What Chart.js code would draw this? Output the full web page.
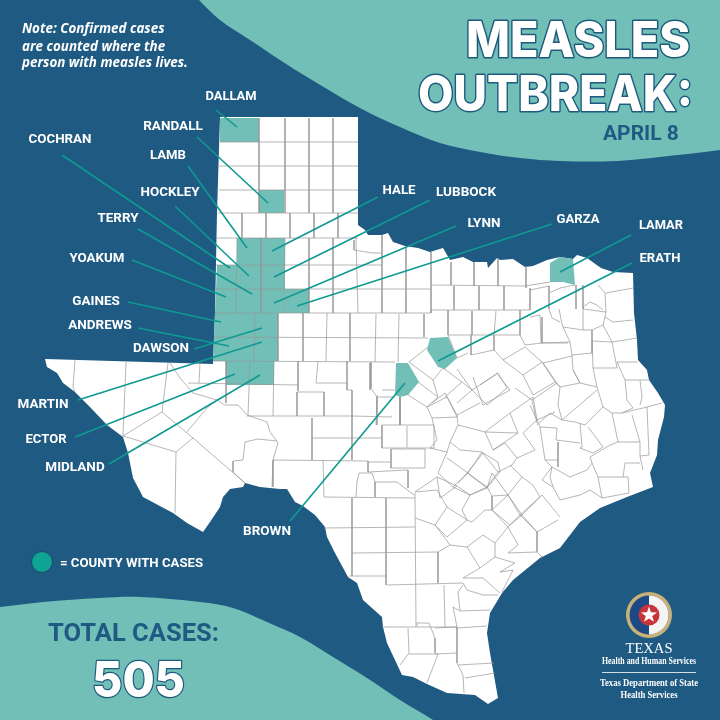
<!DOCTYPE html>
<html><head><meta charset="utf-8">
<script src="https://cdn.jsdelivr.net/npm/chart.js@4"></script>
<style>html,body{margin:0;padding:0;background:#1f5a82}canvas{display:block}</style>
</head><body><canvas id="c" width="720" height="720"></canvas>
<script>
const topWave=[[193,-6],[220,20],[250,40],[280,60],[312,80],[360,108],[400,127],[440,143],[480,152],[520,158],[560,161],[617,161],[660,157],[720,150],[780,142],[800,-60],[150,-60]];
const bottomWave=[[-60,612],[0,607],[43,602],[100,598],[140,597],[200,602],[233,608],[267,622],[300,637],[333,657],[367,678],[400,700],[433,720],[470,746],[460,800],[-80,800]];
const texasOutline=[[220,117],[358,117],[358,225],[365,230],[368,235],[382,235],[388,233],[393,242],[405,246],[418,248],[430,252],[443,248],[450,260],[463,257],[473,262],[487,262],[488,268],[497,258],[500,260],[513,259],[525,267],[533,266],[547,260],[560,257],[573,259],[577,255],[587,258],[601,268],[613,272],[633,273],[634,313],[637,340],[638,360],[647,370],[649,380],[658,393],[665,405],[664,417],[658,440],[657,455],[650,473],[653,487],[627,497],[600,508],[580,522],[560,548],[540,558],[513,580],[502,593],[490,613],[487,633],[490,653],[498,698],[488,704],[475,695],[447,693],[427,684],[413,677],[402,675],[387,643],[383,627],[382,617],[363,600],[357,583],[348,577],[335,553],[327,537],[325,527],[315,515],[303,506],[295,502],[287,489],[280,489],[260,487],[245,483],[243,487],[230,489],[223,497],[220,507],[210,522],[203,532],[187,523],[173,513],[143,497],[133,478],[128,453],[123,437],[107,425],[90,407],[75,392],[63,383],[57,373],[47,367],[45,359],[213,364],[215,313],[217,213]];
const casesDallam=[[220,118],[259,118],[259,142],[220,142]];
const casesRandall=[[259,190],[284,190],[284,213],[259,213]];
const casesLamb=[[237,238],[261,238],[261,265],[237,265]];
const casesHale=[[261,238],[285,238],[285,265],[261,265]];
const casesCochran=[[217,265],[237,265],[237,289],[216,289]];
const casesHockley=[[237,265],[261,265],[261,289],[236,289]];
const casesLubbock=[[261,265],[285,265],[285,289],[261,289]];
const casesYoakum=[[216,289],[236,289],[236,313],[215,313]];
const casesTerry=[[236,289],[261,289],[261,313],[236,313]];
const casesLynn=[[261,289],[285,289],[284,313],[261,313]];
const casesGarza=[[285,289],[309,289],[309,313],[284,313]];
const casesGaines=[[215,313],[255,313],[255,337],[214,337]];
const casesDawson=[[255,313],[278,313],[278,337],[254,337]];
const casesAndrews=[[214,337],[254,337],[254,361],[213,361]];
const casesMartin=[[254,337],[278,337],[278,361],[254,361]];
const casesEctor=[[226,361],[250,361],[250,385],[226,385]];
const casesMidland=[[250,361],[274,361],[274,385],[250,385]];
const casesBrown=[[396,363],[408,363],[419,382],[408,395],[400,397],[395,395]];
const casesErath=[[430,338],[448,337],[457,358],[445,369],[438,367],[427,350]];
const casesLamar=[[550,263],[560,257],[573,259],[575,285],[563,282],[550,282]];
const caseCounties=[casesDallam,casesRandall,casesLamb,casesHale,casesCochran,casesHockley,casesLubbock,casesYoakum,casesTerry,casesLynn,casesGarza,casesGaines,casesDawson,casesAndrews,casesMartin,casesEctor,casesMidland,casesBrown,casesErath,casesLamar];
const panhandleLines=[
[[259,118],[259,213]],[[285,118],[285,213]],[[309,118],[309,213]],[[333,118],[333,213]],
[[220,142],[358,142]],[[219,166],[358,166]],[[219,190],[358,190]],[[218,213],[358,213]],
[[242,213],[242,238]],[[266,213],[266,238]],[[290,213],[290,238]],[[314,213],[314,238]],[[338,213],[338,238]],
[[217,238],[358,238]],[[237,238],[236,313]],[[261,238],[261,313]],[[285,238],[284,313]],[[309,238],[309,313]],[[333,238],[333,313]],[[356,238],[358,313]],
[[216,265],[382,265]],[[216,289],[431,289]],[[215,313],[431,313]],
[[354,240],[354,250],[372,253],[382,253]],[[382,235],[382,313]],[[406,247],[406,313]],[[431,252],[431,313]]];
const rollingPlainsLines=[
[[255,313],[254,361]],[[278,313],[278,361]],[[303,313],[303,361]],[[327,313],[326,361]],[[350,313],[350,361]],[[376,314],[375,362]],[[399,314],[398,362]],[[424,314],[424,337]],
[[214,337],[428,338]],[[213,361],[395,362]],
[[226,361],[226,403]],[[250,361],[248,415]],[[274,361],[273,416]],[[298,361],[298,391]],[[318,361],[316,383],[347,383]],[[347,361],[347,390],[352,390],[352,460]],[[371,362],[371,388],[377,397],[395,397]],
[[188,383],[298,385]],[[297,392],[324,392],[324,416]],[[297,392],[297,416]],[[247,416],[352,416],[392,417]],[[377,397],[377,425]],[[400,397],[400,425]],
[[382,425],[434,425]],[[382,425],[382,448],[407,448],[407,426]],[[408,448],[434,448],[434,425]],
[[312,418],[312,460]],[[312,438],[382,438]],[[273,460],[368,461]],[[323,460],[324,497]],[[273,461],[272,487]],
[[391,449],[391,468],[425,468],[425,449],[391,449]],[[368,462],[390,462]],[[368,461],[368,472],[408,470],[408,488]],
[[359,473],[372,473],[375,482],[397,482],[414,495]],[[359,473],[357,482],[356,497]],[[375,482],[375,497]]];
const westLines=[
[[75,360],[73,387],[75,392]],[[126,362],[123,436]],[[168,363],[162,412],[123,436],[176,452],[175,513]],[[162,412],[193,438],[245,483]],[[176,452],[193,438]],[[187,432],[207,408],[217,400]],
[[170,363],[180,378],[193,393],[217,400],[225,405],[238,405],[247,415],[267,422],[270,432],[278,443],[273,460]],
[[200,363],[199,383]],[[233,461],[243,460],[245,442],[258,439],[277,441]],[[233,461],[233,472],[245,483]],[[273,460],[273,487]]];
const southLines=[
[[324,497],[415,498]],[[352,498],[352,576]],[[386,498],[386,585]],[[415,493],[416,627]],[[324,528],[415,527]],[[352,553],[438,552]],[[349,576],[386,576]],[[387,585],[463,583]],[[438,552],[438,583]],[[444,585],[445,627]],[[382,627],[457,627]],
[[408,628],[409,653],[400,665]],[[409,654],[438,654],[427,683]],[[417,626],[417,623],[429,623],[435,638],[435,653]],[[435,628],[457,627]],[[457,627],[457,663],[463,675],[464,693]],[[435,654],[457,653]],[[458,665],[494,663]],[[465,678],[495,673]],[[457,628],[487,626]],[[453,607],[457,627]],[[453,607],[460,611],[490,610]],[[460,611],[458,592],[463,585]],[[463,578],[483,578],[500,593]],[[463,583],[467,590],[483,595],[498,595]],[[463,578],[480,568],[467,547],[450,545],[438,552]],
[[415,492],[437,490],[447,507],[435,525],[415,518]],[[435,525],[450,545]],[[435,525],[447,537],[467,520],[447,507]],[[467,520],[472,522],[485,510],[492,510],[508,495],[520,515],[542,495],[560,517]],[[480,568],[495,557],[515,563],[500,572],[513,570],[502,592]],[[495,557],[495,543],[483,535],[467,547]],[[495,543],[508,527],[492,510]],[[508,527],[520,515],[537,532],[537,552],[508,553],[518,545],[508,527]],[[537,532],[558,520]],[[537,552],[542,557]],
[[415,492],[437,477],[440,498],[457,486],[470,495],[462,510],[467,520]],[[457,486],[437,477]],[[458,483],[467,473],[487,488],[470,495]],[[467,473],[483,453],[498,462],[500,472],[487,488],[492,473]],[[492,473],[508,495]]];
const centralLines=[
[[382,390],[395,390]],[[409,362],[428,347]],[[370,363],[370,390]],[[400,397],[400,425]],[[377,395],[376,425]],
[[408,395],[427,407],[432,418],[457,417],[447,397],[427,407]],[[418,382],[438,397],[427,407]],[[409,362],[433,380],[438,397]],[[433,380],[443,368]],[[443,368],[462,382],[445,397]],[[462,382],[472,390],[457,403]],[[472,390],[498,373],[507,388],[487,405],[472,390]],[[457,369],[472,390]],[[457,358],[468,353]],[[448,335],[457,358]],[[471,335],[471,355]],[[494,335],[494,350],[503,360],[525,347],[542,362],[555,382],[533,395],[523,375],[542,362]],[[503,360],[523,375]],[[480,385],[498,373]],[[471,355],[494,350]],
[[432,403],[445,393],[457,415],[480,403]],[[432,418],[437,440],[430,448]],[[473,377],[483,405],[510,390],[498,375]],[[457,415],[458,425],[485,432],[510,413],[518,433],[485,432]],[[485,432],[493,450],[518,433]],[[510,413],[533,397],[537,420],[555,412]],[[537,420],[523,433],[535,450],[517,458],[505,443],[493,450]],[[458,425],[450,442],[447,452],[430,448]],[[450,442],[460,450],[482,452],[498,472],[512,465],[517,458]],[[482,452],[468,473],[447,458]],[[447,452],[438,473],[453,487],[468,473],[487,487],[498,472]],[[453,487],[470,495],[487,487],[492,496],[508,495],[522,477],[510,465]],[[492,496],[492,510],[510,525],[522,515],[508,495]],[[522,515],[540,497],[533,485],[522,477]],[[522,515],[537,532]]];
const eastLines=[
[[451,262],[451,285]],[[474,262],[474,286]],[[498,258],[498,286]],[[526,266],[526,288]],[[431,285],[525,286],[550,282]],[[454,286],[454,310]],[[479,286],[479,310]],[[504,286],[504,310]],[[530,288],[530,310]],[[431,313],[432,310],[530,310]],[[448,310],[448,335]],[[472,311],[472,335]],[[496,311],[494,335]],[[520,310],[520,335],[525,345],[542,343],[568,343]],[[448,335],[520,335]],[[542,317],[542,343]],
[[530,290],[549,286]],[[549,286],[549,309],[552,318],[560,322]],[[549,293],[560,288],[575,285]],[[530,317],[540,315],[541,343]],[[576,285],[576,309]],[[583,285],[583,309]],[[598,285],[605,293],[606,312]],[[606,293],[633,288]],[[559,309],[562,324],[563,327],[583,330],[583,309]],[[583,309],[606,312]],[[583,307],[590,302],[597,305],[603,310]],[[605,317],[613,322],[633,320]],[[583,330],[592,330],[603,325],[606,312]],[[592,330],[592,353]],[[592,341],[612,342],[625,340],[637,338]],[[603,325],[612,342]],[[563,327],[570,342],[572,355]],[[541,343],[570,342]],[[592,353],[572,355],[573,370],[580,383],[560,387],[557,383],[543,363],[572,356]],[[592,341],[593,368],[617,368],[612,342]],[[573,370],[580,383],[597,387],[593,368]],[[617,362],[638,362]],[[617,362],[625,380],[627,400],[633,408]],[[625,380],[640,380],[642,397],[640,405]],[[640,380],[650,380]],[[622,413],[647,407],[662,403]],[[597,387],[603,407],[612,413],[622,413],[633,408]],[[597,390],[562,420],[558,405],[560,387]],[[603,407],[585,425],[575,422],[562,420]],[[612,413],[618,442],[640,442],[632,415]],[[647,407],[649,455],[640,456],[640,442]],[[618,442],[610,445],[590,457],[592,463],[598,477],[623,477],[625,463],[640,463]],[[640,456],[643,470]],[[580,423],[582,447],[580,448],[593,453],[603,447],[588,427]],[[623,477],[628,477],[629,493],[602,498],[598,477]],[[592,463],[587,470],[570,477],[552,467],[550,477],[553,487]],[[540,427],[557,428],[556,440],[580,443]],[[558,442],[558,467]],[[540,427],[545,460],[558,460]],[[537,425],[550,413],[562,420]],[[532,400],[557,383]],[[532,400],[537,423]],[[515,388],[532,400]],[[555,382],[560,387]],[[530,405],[540,427]],[[545,460],[552,467],[542,480],[553,487],[560,500],[580,495],[590,490],[602,498]]];
const countyLines=[...panhandleLines,...rollingPlainsLines,...westLines,...southLines,...centralLines,...eastLines];
const leaderLines=[
[[216,110],[237,127]],[[197,137],[268,203]],[[188,166],[247,248]],[[175,206],[249,276]],[[62,155],[230,268]],[[138,229],[252,294]],[[132,260],[226,297]],[[128,302],[221,322]],[[138,328],[229,346]],[[194,349],[262,328]],[[78,400],[262,342]],[[75,437],[235,374]],[[109,464],[260,375]],[[290,521],[405,383]],[[272,251],[378,197]],[[274,277],[430,200]],[[274,303],[456,226]],[[297,306],[552,224]],[[560,272],[631,235]],[[438,361],[632,263]]];
const countyNames=["DALLAM","RANDALL","COCHRAN","LAMB","HOCKLEY","TERRY","YOAKUM","GAINES","ANDREWS","DAWSON","MARTIN","ECTOR","MIDLAND","BROWN","HALE","LUBBOCK","LYNN","GARZA","LAMAR","ERATH"];
const nameCenters=[[231,97],[173,127],[60,140],[168,156],[170,193],[118,219],[97,259],[96,302],[100,326],[161,349],[43,405],[46,440],[75,468],[267,532],[399,191],[466,193],[484,224],[578,220],[661,226],[660,259]];
const nameWidths=[51,60,63,36,59,41,55,48,65,56,51,41,60,48,33,61,33,43,44,41];
const legendDot=[[42,562]];

const navy='#1f5a82',teal='#72bfb8',leader='#0e9a92';
const pts=a=>a.map(p=>({x:p[0],y:p[1]}));
const closed=a=>pts([...a,a[0]]);
const joined=list=>list.flatMap(l=>[...pts(l),{x:NaN,y:NaN}]);
const base={showLine:true,pointRadius:0,pointHoverRadius:0,spanGaps:false,tension:0};
const ds=[
 {...base,data:closed(topWave),backgroundColor:teal,borderWidth:0,fill:'shape',tension:0.35},
 {...base,data:closed(bottomWave),backgroundColor:teal,borderWidth:0,fill:'shape',tension:0.35},
 {...base,data:closed(texasOutline),backgroundColor:'#ffffff',borderWidth:0,fill:'shape'},
 ...caseCounties.map(c=>({...base,data:closed(c),backgroundColor:teal,borderWidth:0,fill:'shape'})),
 {...base,data:joined(countyLines),borderColor:'#969696',borderWidth:0.7,fill:false},
 {...base,data:joined(leaderLines),borderColor:leader,borderWidth:1.6,fill:false},
 {showLine:false,data:pts(legendDot),pointRadius:10.5,pointHoverRadius:10.5,pointBackgroundColor:'#0fa394',pointBorderColor:'#174a6c',pointBorderWidth:1}
].reverse();

function outlined(ctx,t,x,y,w,font,lw){
 ctx.font=font;ctx.lineJoin='round';ctx.strokeStyle='#1e5a7e';ctx.lineWidth=lw;
 ctx.strokeText(t,x,y,w);ctx.fillStyle='#fff';ctx.fillText(t,x,y,w);
}
const textPlugin={id:'texts',afterDatasetsDraw(chart){
 const ctx=chart.ctx,X=chart.scales.x,Y=chart.scales.y;ctx.save();
 ctx.textBaseline='middle';ctx.textAlign='center';ctx.fillStyle='#fff';
 ctx.font='700 13.5px Roboto';
 countyNames.forEach((n,i)=>ctx.fillText(n,X.getPixelForValue(nameCenters[i][0]),Y.getPixelForValue(nameCenters[i][1]),nameWidths[i]));
 ctx.textAlign='left';ctx.textBaseline='alphabetic';
 ctx.font='italic 700 13.4px "Open Sans"';
 ctx.fillText('Note: Confirmed cases',22,33,143);
 ctx.fillText('are counted where the',22,51,145);
 ctx.fillText('person with measles lives.',22,67,167);
 outlined(ctx,'MEASLES',466,57,224,'800 49px Inter',3);
 outlined(ctx,'OUTBREAK:',418,111,275,'800 49px Inter',3);
 ctx.fillStyle=navy;ctx.font='700 21px Roboto';ctx.fillText('APRIL 8',603,140,76);
 ctx.font='700 25.7px Roboto';ctx.fillStyle=navy;ctx.fillText('TOTAL CASES:',48,641,171);
 outlined(ctx,'505',92,697,93,'800 50px Inter',2.5);
 ctx.fillStyle='#fff';ctx.font='700 13.2px Roboto';ctx.fillText('= COUNTY WITH CASES',60,567,143);
 const cx=649,cy=615;
 ctx.beginPath();ctx.arc(cx,cy,23,0,7);ctx.fillStyle='#c9b27a';ctx.fill();
 ctx.beginPath();ctx.arc(cx,cy,19.5,0,7);ctx.fillStyle='#1d4a86';ctx.fill();
 ctx.beginPath();ctx.arc(cx,cy,19.5,-Math.PI/2,Math.PI/2);ctx.fillStyle='#f4f4f4';ctx.fill();
 ctx.beginPath();ctx.arc(cx,cy,10.5,0,7);ctx.fillStyle='#c8343c';ctx.fill();
 ctx.beginPath();for(let i=0;i<10;i++){const r=i%2?3.4:8.4,a=-Math.PI/2+i*Math.PI/5;ctx.lineTo(cx+r*Math.cos(a),cy+r*Math.sin(a));}
 ctx.closePath();ctx.fillStyle='#fff';ctx.fill();
 ctx.textAlign='center';ctx.fillStyle='#fff';
 ctx.font='15px "Liberation Serif"';ctx.fillText('TEXAS',649,653,47);
 ctx.font='700 9.5px "Liberation Sans Narrow"';ctx.fillText('Health and Human Services',649,664,94);
 ctx.fillRect(602,672,94,0.8);
 ctx.font='700 10px "Liberation Sans Narrow"';
 ctx.fillText('Texas Department of State',649,686,98);
 ctx.fillText('Health Services',649,698,57);
 ctx.restore();
}};
new Chart(document.getElementById('c'),{type:'scatter',data:{datasets:ds},plugins:[{id:'bg',beforeDraw(c){c.ctx.fillStyle=navy;c.ctx.fillRect(0,0,720,720);}},textPlugin],
 options:{responsive:false,animation:false,devicePixelRatio:1,layout:{padding:0,autoPadding:false},events:[],
  plugins:{legend:{display:false},tooltip:{enabled:false}},
  scales:{x:{type:'linear',min:0,max:720,display:false},y:{type:'linear',min:0,max:720,reverse:true,display:false}}}});
</script></body></html>
